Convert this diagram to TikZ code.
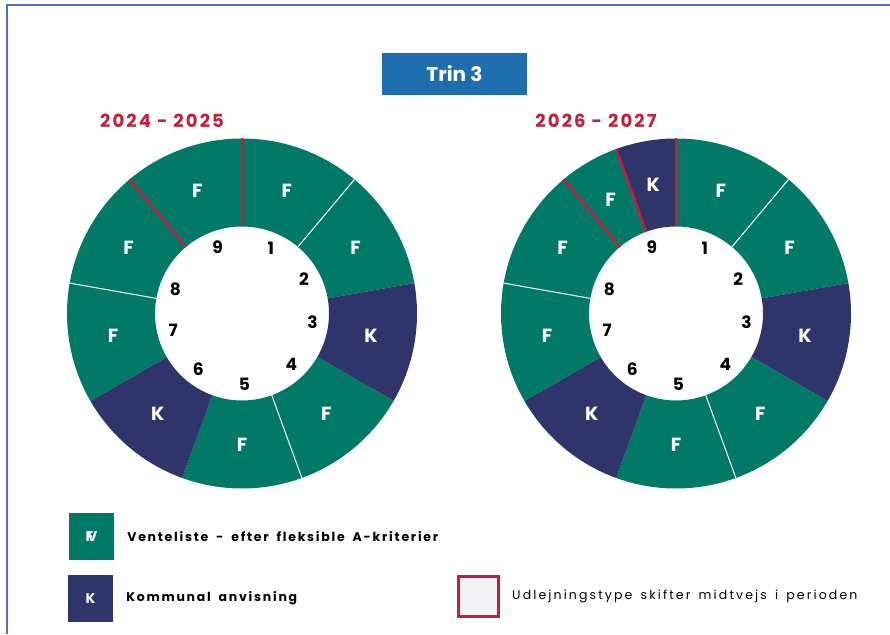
\documentclass[tikz,border=0pt]{standalone}
\usepackage{fontspec}
\setmainfont{Poppins}
\newfontfamily\spacedfont[LetterSpace=14, WordSpace=1.8]{Poppins}
\newfontfamily\plainspaced[LetterSpace=17, WordSpace=1.5]{Poppins}
\newfontfamily\yearfont[LetterSpace=12]{Poppins}
\usepackage{tikz}
\usetikzlibrary{positioning}

\definecolor{fgreen}{HTML}{007A66}
\definecolor{knavy}{HTML}{2F346B}
\definecolor{skiftred}{HTML}{C41E3A}
\definecolor{trinblue}{HTML}{1E6DAF}
\definecolor{framebl}{HTML}{5470B8}
\definecolor{legbg}{HTML}{F2F2F4}

\begin{document}
\begin{tikzpicture}[x=1pt, y=1pt, node distance=13pt,
    seglbl/.style={text=white, font=\bfseries\fontsize{19}{19}\selectfont},
    numlbl/.style={text=black, font=\bfseries\fontsize{17}{17}\selectfont},
    yearlbl/.style={text=skiftred, font=\yearfont\bfseries\fontsize{18}{18}\selectfont},
    legbox/.style={minimum width=45pt, minimum height=47pt, inner sep=0pt, text=white, font=\bfseries\fontsize{14}{14}\selectfont},
    legtxt/.style={text=black, inner sep=0pt, font=\spacedfont\bfseries\fontsize{12.5}{12.5}\selectfont},
    whiteline/.style={white, line width=1pt},
    redline/.style={skiftred, line width=2.5pt}]
  \useasboundingbox (0,0) rectangle (890,634);
  \fill[white] (0,0) rectangle (890,634);
  % frame, only top and left edge visible
  \draw[framebl, line width=1.5pt] (7,0) -- (7,629) -- (890,629);

  \node[fill=trinblue, minimum width=145pt, minimum height=42pt, text=white,
        font=\bfseries\fontsize{20}{20}\selectfont] (trin) at (454.5,560) {Trin 3};

  \node[yearlbl] (yrA) at (162,513) {2024 - 2025};
  \node[yearlbl] (yrB) at (596,513) {2026 - 2027};

  % left wheel
  \begin{scope}[shift={(242,320.5)}]
    \foreach \a/\b/\col/\t [count=\i] in {50/90/fgreen/F, 10/50/fgreen/F, -30/10/knavy/K,
        -70/-30/fgreen/F, -110/-70/fgreen/F, -150/-110/knavy/K, 170/210/fgreen/F,
        130/170/fgreen/F, 90/130/fgreen/F}{
      \fill[\col] (\a:87pt) -- (\a:175pt) arc[start angle=\a, end angle=\b, radius=175pt]
        -- (\b:87pt) arc[start angle=\b, end angle=\a, radius=87pt] -- cycle;
      \node[seglbl] (L\i) at ({(\a+\b)/2}:131pt) {\t};
    }
    \draw[whiteline] (50:87pt) -- (50:175pt);
    \draw[whiteline] (-70:87pt) -- (-70:175pt);
    \draw[whiteline] (170:87pt) -- (170:175pt);
    \draw[redline] (90:87pt) -- (90:175pt);
    \draw[redline] (130:87pt) -- (130:175pt);
    \foreach \n/\ang in {1/66, 2/29, 3/-7, 4/-46, 5/-88, 6/-128, 7/194, 8/160, 9/110}
      \node[numlbl] (Ln\n) at (\ang:71pt) {\n};
  \end{scope}

  % right wheel
  \begin{scope}[shift={(676,320.5)}]
    \foreach \a/\b/\col/\t [count=\i] in {50/90/fgreen/F, 10/50/fgreen/F, -30/10/knavy/K,
        -70/-30/fgreen/F, -110/-70/fgreen/F, -150/-110/knavy/K, 170/210/fgreen/F,
        130/170/fgreen/F, 110/130/fgreen/F, 90/110/knavy/K}{
      \fill[\col] (\a:87pt) -- (\a:175pt) arc[start angle=\a, end angle=\b, radius=175pt]
        -- (\b:87pt) arc[start angle=\b, end angle=\a, radius=87pt] -- cycle;
      \node[seglbl] (R\i) at ({(\a+\b)/2}:131pt) {\t};
    }
    \draw[whiteline] (50:87pt) -- (50:175pt);
    \draw[whiteline] (-70:87pt) -- (-70:175pt);
    \draw[whiteline] (170:87pt) -- (170:175pt);
    \draw[redline] (90:87pt) -- (90:175pt);
    \draw[redline] (110:87pt) -- (110:175pt);
    \draw[redline] (130:87pt) -- (130:175pt);
    \foreach \n/\ang in {1/66, 2/29, 3/-7, 4/-46, 5/-88, 6/-128, 7/194, 8/160, 9/110}
      \node[numlbl] (Rn\n) at (\ang:71pt) {\n};
  \end{scope}

  % legend
  \node[legbox, fill=fgreen] (legF) at (91.5,97.5) {\makebox[0pt][l]{F}\kern0.12em V};
  \node[legtxt, right=of legF] (legFtxt) {Venteliste - efter fleksible A-kriterier};
  \node[legbox, fill=knavy] (legK) at (90.5,35.5) {K};
  \node[legtxt, right=of legK] (legKtxt) {Kommunal anvisning};
  \node[draw=skiftred, line width=3pt, fill=legbg, minimum size=40pt, inner sep=0pt] (legR) at (478.5,37.5) {};
  \node[legtxt, font=\plainspaced\fontsize{12.5}{12.5}\selectfont, right=12pt of legR] (legRtxt) {Udlejningstype skifter midtvejs i perioden};
\end{tikzpicture}
\end{document}
